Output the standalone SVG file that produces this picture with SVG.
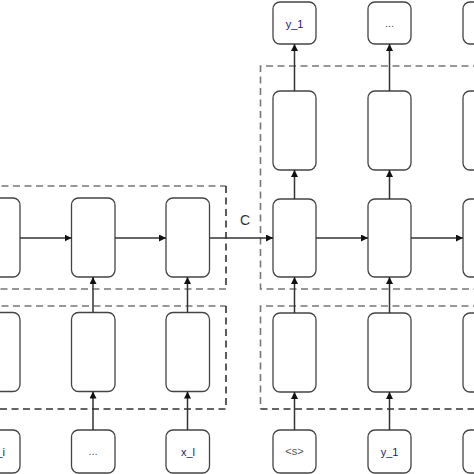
<svg xmlns="http://www.w3.org/2000/svg" width="474" height="474" viewBox="0 0 474 474">
<style>
.box{fill:#fff;stroke:#444;stroke-width:1.3}
.dash{fill:none;stroke:#333;stroke-width:1.6;stroke-dasharray:7,4.5}
.dashl{fill:none;stroke:#777;stroke-width:1.6;stroke-dasharray:7,4.5}
.conn{fill:none;stroke:#333;stroke-width:1.5;marker-end:url(#ah)}
.t{font-family:"Liberation Sans",Arial,sans-serif;font-size:11px;text-anchor:middle}
.navy{fill:#1a1a6e}
.grey{fill:#555}
</style>
<defs>
<marker id="ah" viewBox="0 0 10 10" refX="10" refY="5" markerWidth="7" markerHeight="7" markerUnits="userSpaceOnUse" orient="auto">
<path d="M0,0 L10,5 L0,10 z" fill="#111"/>
</marker>
</defs>
<rect width="474" height="474" fill="#fff"/>
<g id="groups">
<path class="dashl" d="M-10,186 H226"/>
<path class="dash" d="M226,186 V289"/>
<path class="dashl" d="M226,289 H-10"/>
<path class="dashl" d="M-10,306 H226"/>
<path class="dash" d="M226,306 V409 H-10"/>
<path class="dashl" d="M480,66 H260.5 V289 H480"/>
<path class="dashl" d="M480,306 H260.5 V409"/>
<path class="dash" d="M260.5,409 H480"/>
</g>
<g id="enc-mid-a"><rect class="box" x="-24" y="198" width="44" height="79" rx="7"/></g>
<g id="enc-mid-b"><rect class="box" x="71.5" y="198" width="43.5" height="79" rx="7"/></g>
<g id="enc-mid-c"><rect class="box" x="166" y="198" width="43.5" height="79" rx="7"/></g>
<g id="enc-low-a"><rect class="box" x="-24" y="312.5" width="44" height="79" rx="7"/></g>
<g id="enc-low-b"><rect class="box" x="71.5" y="312.5" width="43.5" height="79" rx="7"/></g>
<g id="enc-low-c"><rect class="box" x="166" y="312.5" width="43.5" height="79" rx="7"/></g>
<g id="in-a"><rect class="box" x="-24" y="430" width="44" height="43" rx="7"/><text class="t navy" x="-2" y="456">x_i</text></g>
<g id="in-b"><rect class="box" x="71.5" y="430" width="43.5" height="43" rx="7"/><text class="t grey" x="93" y="455">...</text></g>
<g id="in-c"><rect class="box" x="166" y="430" width="43.5" height="43" rx="7"/><text class="t navy" x="188" y="456">x_l</text></g>
<g id="dec-top-d"><rect class="box" x="273" y="91" width="43" height="79" rx="7"/></g>
<g id="dec-top-e"><rect class="box" x="368" y="91" width="43" height="79" rx="7"/></g>
<g id="dec-top-f"><rect class="box" x="463" y="91" width="43" height="79" rx="7"/></g>
<g id="dec-mid-d"><rect class="box" x="273" y="199" width="43" height="78" rx="7"/></g>
<g id="dec-mid-e"><rect class="box" x="368" y="199" width="43" height="78" rx="7"/></g>
<g id="dec-mid-f"><rect class="box" x="463" y="199" width="43" height="78" rx="7"/></g>
<g id="dec-low-d"><rect class="box" x="273" y="313" width="43" height="79" rx="7"/></g>
<g id="dec-low-e"><rect class="box" x="368" y="313" width="43" height="79" rx="7"/></g>
<g id="dec-low-f"><rect class="box" x="463" y="313" width="43" height="79" rx="7"/></g>
<g id="out-d"><rect class="box" x="273" y="2" width="43" height="42" rx="7"/><text class="t navy" x="294.5" y="28">y_1</text></g>
<g id="out-e"><rect class="box" x="368" y="2" width="43" height="42" rx="7"/><text class="t grey" x="389.5" y="27">...</text></g>
<g id="out-f"><rect class="box" x="463" y="2" width="43" height="42" rx="7"/></g>
<g id="in-d"><rect class="box" x="273" y="430" width="43" height="43" rx="7"/><text class="t grey" x="294.5" y="455">&lt;s&gt;</text></g>
<g id="in-e"><rect class="box" x="368" y="430" width="43" height="43" rx="7"/><text class="t navy" x="389.5" y="456">y_1</text></g>
<g id="in-f"><rect class="box" x="463" y="430" width="43" height="43" rx="7"/></g>
<g id="connectors">
<path class="conn" d="M20,238 H71.5"/>
<path class="conn" d="M115,238 H166"/>
<path class="conn" d="M209.5,238 H273"/>
<path class="conn" d="M316,238 H368"/>
<path class="conn" d="M411,238 H463"/>
<path class="conn" d="M93,430 V391.5"/>
<path class="conn" d="M187.5,430 V391.5"/>
<path class="conn" d="M93,312.5 V277"/>
<path class="conn" d="M187.5,312.5 V277"/>
<path class="conn" d="M294.5,430 V392"/>
<path class="conn" d="M389.5,430 V392"/>
<path class="conn" d="M294.5,313 V277"/>
<path class="conn" d="M389.5,313 V277"/>
<path class="conn" d="M294.5,199 V170"/>
<path class="conn" d="M389.5,199 V170"/>
<path class="conn" d="M294.5,91 V44"/>
<path class="conn" d="M389.5,91 V44"/>
</g>
<text x="245" y="225" style="font-family:'Liberation Sans',Arial,sans-serif;font-size:14px;fill:#333;text-anchor:middle">C</text>
</svg>
